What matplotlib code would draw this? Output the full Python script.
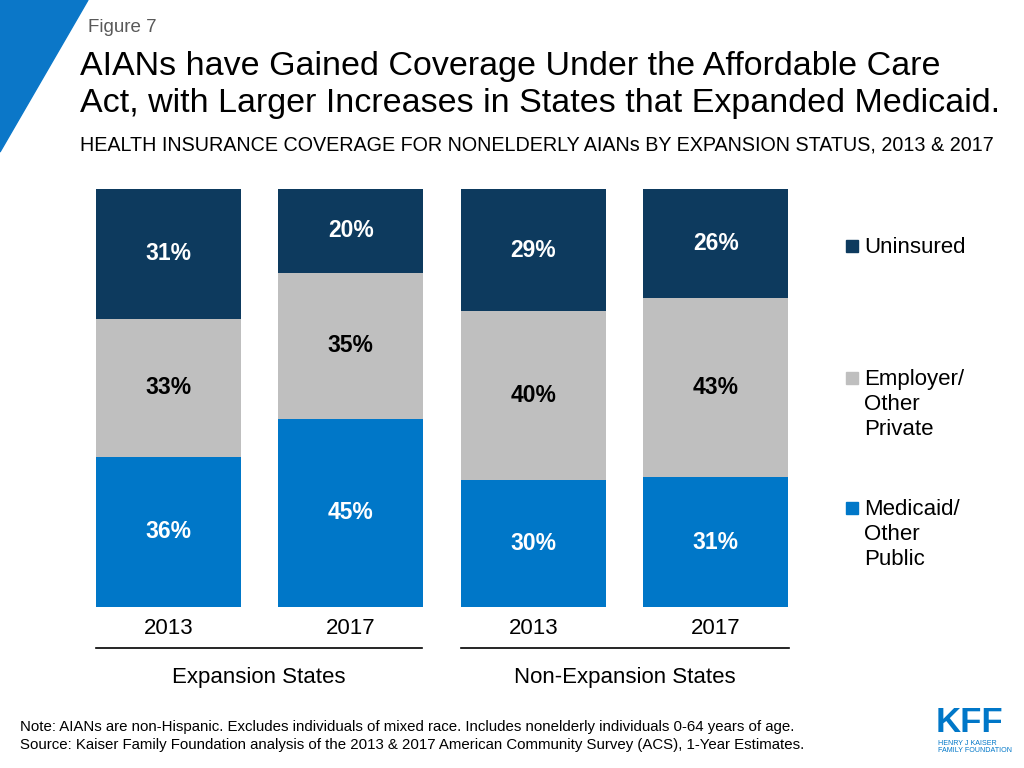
import matplotlib
matplotlib.use("Agg")
import matplotlib.pyplot as plt
from matplotlib.patches import Polygon, Rectangle
import numpy as np

plt.rcParams['font.family'] = ['Liberation Sans', 'DejaVu Sans']

# data
years = ['2013', '2017', '2013', '2017']
groups = ['Expansion States', 'Non-Expansion States']
medicaid = [36, 45, 30, 31]
employer = [33, 35, 40, 43]
uninsured = [31, 20, 29, 26]

series = [
    ('Medicaid/\nOther\nPublic', medicaid, '#0077c8', 'white'),
    ('Employer/\nOther\nPrivate', employer, '#bfbfbf', 'black'),
    ('Uninsured', uninsured, '#0d3a5e', 'white'),
]

W, H = 1024, 768
fig = plt.figure(figsize=(10.24, 7.68), dpi=100)

def fx(px):
    return px / W

def fy(py):
    return 1 - py / H

# blue corner triangle
fig.patches.append(Polygon([[0, 1], [fx(88), 1], [0, fy(152)]], closed=True,
                           transform=fig.transFigure, color='#0b77c8', zorder=0))

fig.text(fx(88), fy(27), 'Figure 7', fontsize=13.5, color='#595959', va='center')
fig.text(fx(80), fy(85), 'AIANs have Gained Coverage Under the Affordable Care\n'
         'Act, with Larger Increases in States that Expanded Medicaid.',
         fontsize=24.5, color='black', va='center', linespacing=1.22)
fig.text(fx(80), fy(145), 'HEALTH INSURANCE COVERAGE FOR NONELDERLY AIANs BY EXPANSION STATUS, 2013 & 2017',
         fontsize=14.2, color='black', va='center')

# bars
ax = fig.add_axes([fx(77), fy(607), fx(730), (607 - 189) / H])
x = np.arange(len(years))
totals = np.array(medicaid) + np.array(employer) + np.array(uninsured)
bottom = np.zeros(len(years))
for name, vals, col, tcol in series:
    h = np.array(vals) / totals * 100
    ax.bar(x, h, width=0.795, bottom=bottom, color=col, edgecolor='none')
    for i, v in enumerate(vals):
        ax.text(x[i], bottom[i] + h[i] / 2, f'{v}%', ha='center', va='center',
                fontsize=16.5, fontweight='bold', color=tcol)
    bottom += h
ax.set_xlim(-0.5, 3.5)
ax.set_ylim(0, 100)
ax.axis('off')

# year labels and group labels
for i, yr in enumerate(years):
    xp = ax.transData.transform((x[i], 0))[0] / W
    fig.text(xp, fy(628), yr, ha='center', va='center', fontsize=16)

for g, (a, b) in zip(groups, [(96, 422), (461, 789)]):
    fig.add_artist(plt.Line2D([fx(a), fx(b)], [fy(648), fy(648)], color='black', lw=1.2))
    fig.text(fx((a + b) / 2), fy(677), g, ha='center', va='center', fontsize=16)

# legend
for (name, vals, col, tcol), ytop in zip(series[::-1], [246, 378, 508]):
    fig.patches.append(Rectangle((fx(846), fy(ytop + 6)), fx(12), 12 / H,
                                 transform=fig.transFigure, color=col))
    fig.text(fx(864), fy(ytop - 9), name, ha='left', va='top', fontsize=16,
             linespacing=1.25)

# notes
fig.text(fx(20), fy(727), 'Note: AIANs are non-Hispanic. Excludes individuals of mixed race. '
         'Includes nonelderly individuals 0-64 years of age.', fontsize=10.8, va='center')
fig.text(fx(20), fy(745), 'Source: Kaiser Family Foundation analysis of the 2013 & 2017 '
         'American Community Survey (ACS), 1-Year Estimates.', fontsize=10.8, va='center')

# logo
fig.text(fx(936), fy(722), 'KFF', fontsize=25, fontweight='bold', color='#0077c8',
         va='center', ha='left')
fig.text(fx(938), fy(747), 'HENRY J KAISER\nFAMILY FOUNDATION', fontsize=5.1,
         color='#0077c8', va='center', ha='left', linespacing=1.0)

fig.savefig('out.png', dpi=100)
